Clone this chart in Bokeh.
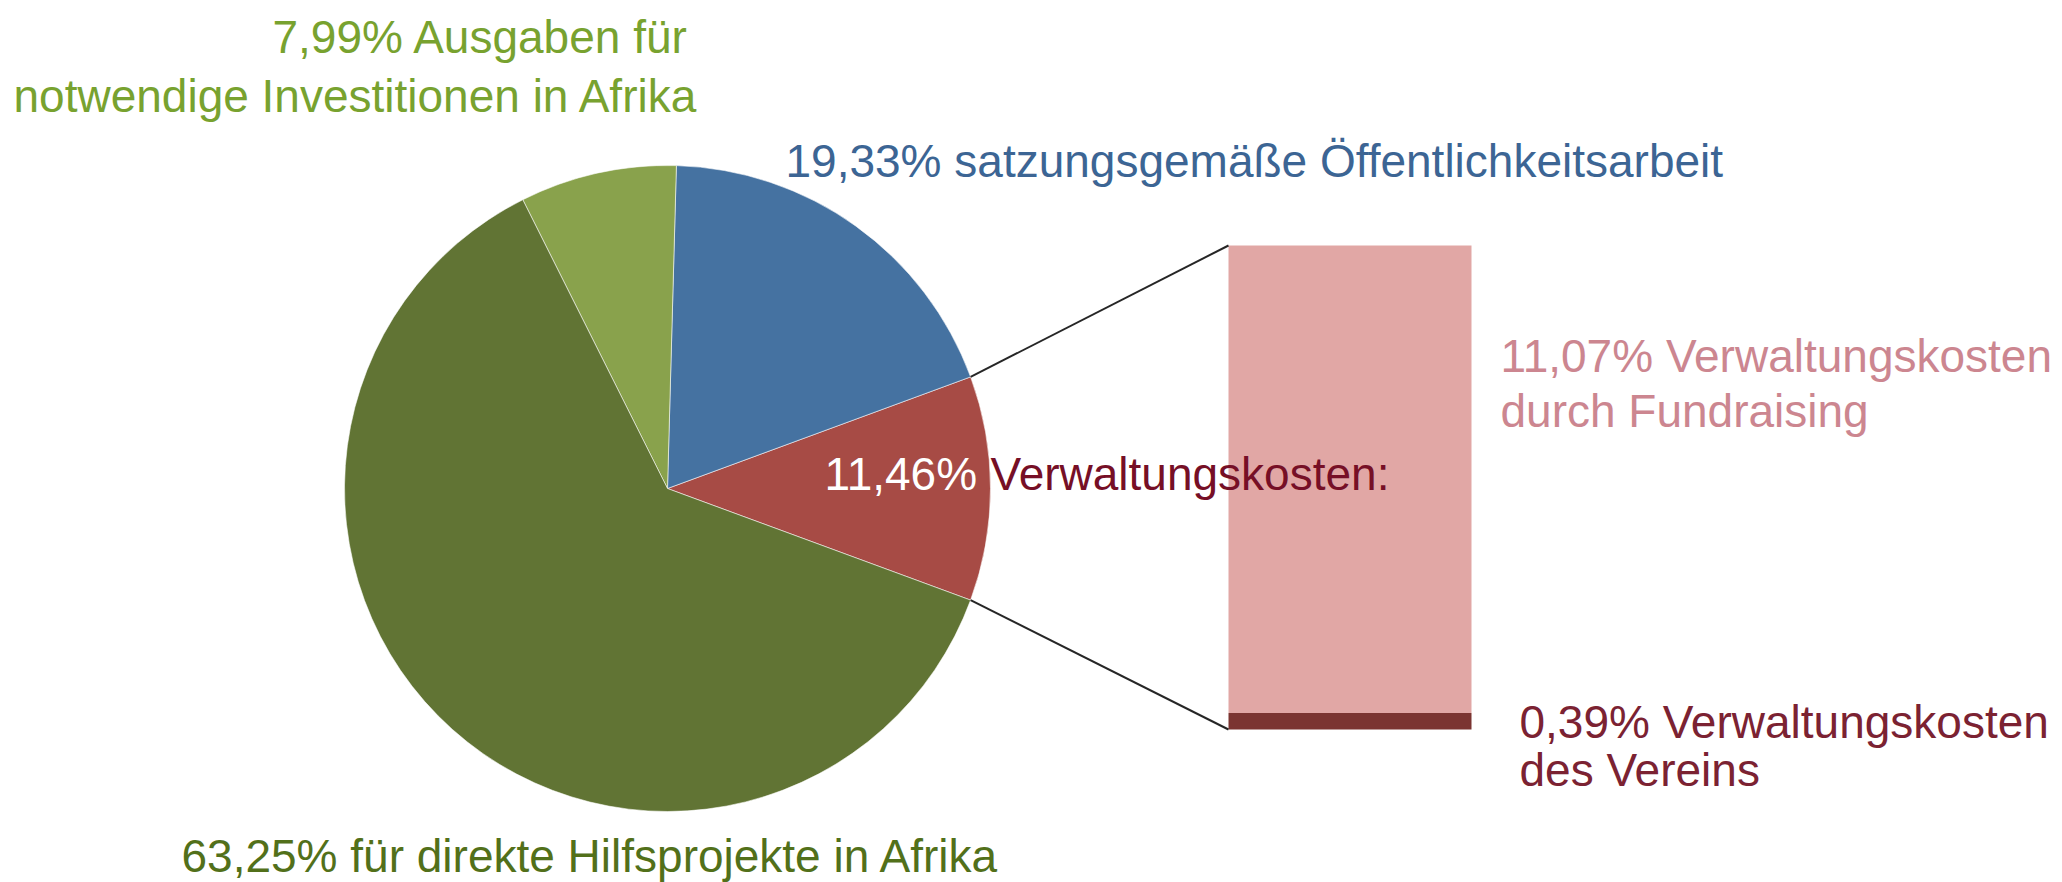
import math
from bokeh.plotting import figure
from bokeh.models import Range1d, ColumnDataSource
from bokeh.core.properties import value
from bokeh.embed import file_html
from bokeh.resources import INLINE

# ---- data ----
pie_labels = ["satzungsgemäße Öffentlichkeitsarbeit", "Verwaltungskosten",
              "notwendige Investitionen in Afrika", "direkte Hilfsprojekte in Afrika"]
sub_labels = ["Verwaltungskosten des Vereins", "Verwaltungskosten durch Fundraising"]
sub_values = [0.39, 11.07]
blue_value = 19.33
invest_value = 7.99
direct_value = 63.25
red_value = round(sum(sub_values), 2)  # 11,46 %

pie_colors = ["#4572A1", "#A74B45", "#89A24C", "#617434"]
bar_colors = ["#7B3431", "#E1A7A5"]

FONT = "Liberation Sans"
FS = "46px"

W, H = 2062, 882
p = figure(width=W, height=H, output_backend="svg", toolbar_location=None,
           x_range=Range1d(0, W), y_range=Range1d(882 - H, 882),
           min_border=0, outline_line_color=None)
p.axis.visible = False
p.xgrid.visible = False
p.ygrid.visible = False
p.background_fill_color = "white"
p.border_fill_color = "white"


def Y(y_ref):
    return 882 - y_ref


# ---- pie ----
cx, cy, r = 667, Y(488), 323
# counter-clockwise order starting with the red slice centred on the right
order_vals = [red_value, blue_value, invest_value, direct_value]
order_cols = [pie_colors[1], pie_colors[0], pie_colors[2], pie_colors[3]]
total = sum(order_vals)
half = math.pi * red_value / total
starts, ends = [], []
a = -half
for v in order_vals:
    starts.append(a)
    a += 2 * math.pi * v / total
    ends.append(a)
src = ColumnDataSource(dict(x=[cx] * 4, y=[cy] * 4, s=starts, e=ends, c=order_cols))
p.wedge(x="x", y="y", radius=r, start_angle="s", end_angle="e", fill_color="c",
        line_color="white", line_width=0.8, line_alpha=0.7, source=src)

# ---- bar of pie ----
bx0, bx1 = 1228, 1471
b_bottom, b_height = Y(729), 484
scale = b_height / sum(sub_values)
bottoms, tops = [], []
acc = 0.0
for v in sub_values:
    bottoms.append(b_bottom + acc * scale)
    acc += v
    tops.append(b_bottom + acc * scale)
p.quad(left=[bx0] * 2, right=[bx1] * 2, bottom=bottoms, top=tops,
       fill_color=bar_colors, line_color=None)

# connector lines
p.segment(x0=[cx + r * math.cos(half), cx + r * math.cos(-half)],
          y0=[cy + r * math.sin(half), cy + r * math.sin(-half)],
          x1=[bx0, bx0], y1=[tops[-1], bottoms[0]],
          line_color="#262626", line_width=2)


# ---- labels ----
def fmt(v):
    return f"{v:.2f}".replace(".", ",") + "%"


def label(x, y, txt, color):
    p.text(x=[x], y=[Y(y)], text=[txt], text_font=value(FONT), text_font_size=FS,
           text_color=color, text_baseline="middle", text_align="left")


label(272, 36, f"{fmt(invest_value)} Ausgaben für", "#78A22F")
label(13, 95, "notwendige Investitionen in Afrika", "#78A22F")
label(785, 160, f"{fmt(blue_value)} satzungsgemäße Öffentlichkeitsarbeit", "#3C6594")
label(1500, 355, f"{fmt(sub_values[1])} Verwaltungskosten", "#CC8690")
label(1500, 410, "durch Fundraising", "#CC8690")
label(824, 473, fmt(red_value), "white")
label(990, 473, "Verwaltungskosten:", "#760F26")
label(1519, 721, f"{fmt(sub_values[0])} Verwaltungskosten", "#7B2232")
label(1519, 769, "des Vereins", "#7B2232")
label(181, 855, f"{fmt(direct_value)} für direkte Hilfsprojekte in Afrika", "#52701A")

open("out.html", "w").write(file_html(p, INLINE))
